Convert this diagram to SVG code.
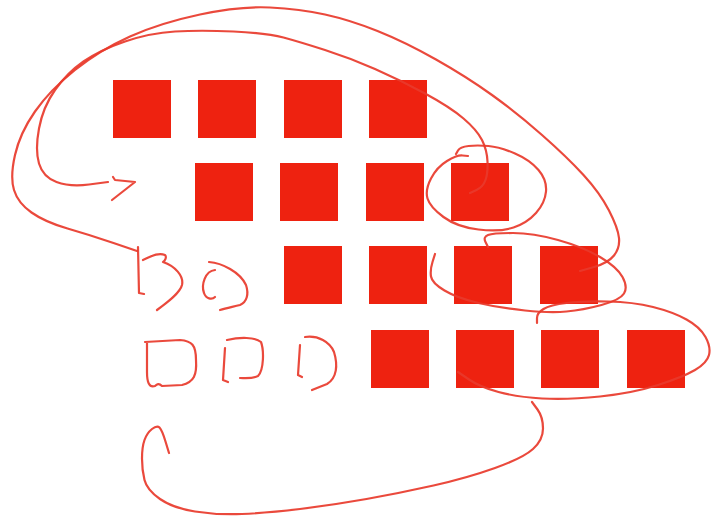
<svg xmlns="http://www.w3.org/2000/svg" width="711" height="518" viewBox="0 0 711 518">
<style>
.sq{fill:#ee2210}
.ink{fill:none;stroke:#e8392b;stroke-width:2.2;stroke-linecap:round;stroke-linejoin:round;opacity:0.92}
</style>
<rect width="711" height="518" fill="#ffffff"/>
<g id="squares">
<g id="r1c1"><rect class="sq" x="113" y="80" width="58" height="58"/></g>
<g id="r1c2"><rect class="sq" x="198" y="80" width="58" height="58"/></g>
<g id="r1c3"><rect class="sq" x="284" y="80" width="58" height="58"/></g>
<g id="r1c4"><rect class="sq" x="369" y="80" width="58" height="58"/></g>
<g id="r2c1"><rect class="sq" x="195" y="163" width="58" height="58"/></g>
<g id="r2c2"><rect class="sq" x="280" y="163" width="58" height="58"/></g>
<g id="r2c3"><rect class="sq" x="366" y="163" width="58" height="58"/></g>
<g id="r2c4"><rect class="sq" x="451" y="163" width="58" height="58"/></g>
<g id="r3c1"><rect class="sq" x="284" y="246" width="58" height="58"/></g>
<g id="r3c2"><rect class="sq" x="369" y="246" width="58" height="58"/></g>
<g id="r3c3"><rect class="sq" x="454" y="246" width="58" height="58"/></g>
<g id="r3c4"><rect class="sq" x="540" y="246" width="58" height="58"/></g>
<g id="r4c1"><rect class="sq" x="371" y="330" width="58" height="58"/></g>
<g id="r4c2"><rect class="sq" x="456" y="330" width="58" height="58"/></g>
<g id="r4c3"><rect class="sq" x="541" y="330" width="58" height="58"/></g>
<g id="r4c4"><rect class="sq" x="627" y="330" width="58" height="58"/></g>
</g>
<g id="connectors">
<path class="ink" d="M 137,251 L 113.5,243 Q 90,235 67.5,228.5 Q 45,222 31.5,212.5 Q 18,203 14,190 Q 10,177 15,155 Q 20,133 35,111.5 Q 50,90 75,70 Q 100,50 130,36.5 Q 160,23 200,14.5 Q 240,6 270,7.5 Q 300,9 325,14.5 Q 350,20 377.5,31 Q 405,42 436,59.5 Q 467,77 492,95 Q 517,113 542,135 Q 567,157 583.5,175 Q 600,193 609,210.5 Q 618,228 619,238 Q 620,248 614,255.5 Q 608,263 594,267 L 580,271"/>
<path class="ink" d="M 470,193 L 476.5,190 Q 483,187 485.5,180 Q 488,173 487.5,161.5 Q 487,150 482,140 Q 477,130 463.5,118.5 Q 450,107 425,93.5 Q 400,80 375,69 Q 350,58 325,50 Q 300,42 283.5,37.5 Q 267,33 233.5,31.5 Q 200,30 175,31.5 Q 150,33 125,41.5 Q 100,50 83.5,61.5 Q 67,73 55,90 Q 43,107 39,128.5 Q 35,150 39,163.5 Q 43,177 56.5,182 Q 70,187 89,184.5 L 108,182"/>
<path class="ink" d="M 113,177 L 115,180 L 135,182 L 112,200"/>
<path class="ink" d="M 468,156 L 462.5,155.5 Q 457,155 447,161 Q 437,167 431,178.5 Q 425,190 427.5,198.5 Q 430,207 443.5,217 Q 457,227 478.5,229.5 Q 500,232 513.5,227.5 Q 527,223 536,213 Q 545,203 546,191.5 Q 547,180 538.5,170 Q 530,160 515,153.5 Q 500,147 488.5,146 Q 477,145 468.5,146 Q 460,147 458,150.5 L 456,154"/>
<path class="ink" d="M 488,247 L 485.5,242 Q 483,237 488,235 Q 493,233 513,233 Q 533,233 558,240 Q 583,247 600,257 Q 617,267 622.5,277 Q 628,287 624,293.5 Q 620,300 601.5,305 Q 583,310 566.5,311.5 Q 550,313 525,310.5 Q 500,308 478.5,303 Q 457,298 444.5,290.5 Q 432,283 431,276.5 Q 430,270 432.5,262 L 435,254"/>
<path class="ink" d="M 537,323 L 537,318 Q 537,313 543.5,309 Q 550,305 566.5,303 Q 583,301 608,301.5 Q 633,302 653,307 Q 673,312 686.5,319.5 Q 700,327 705.5,337 Q 711,347 709,355 Q 707,363 695,370 Q 683,377 658,385 Q 633,393 600,396.5 Q 567,400 542,398.5 Q 517,397 498.5,392 Q 480,387 469,379.5 L 458,372"/>
<path class="ink" d="M 532,402 L 537.5,409.5 Q 543,417 543,428.5 Q 543,440 533,449 Q 523,458 495,468 Q 467,478 433.5,485.5 Q 400,493 366.5,499 Q 333,505 300,509 Q 267,513 242,514 Q 217,515 195,511.5 Q 173,508 160,499 Q 147,490 144.5,480 Q 142,470 142,458.5 Q 142,447 144.5,440 Q 147,433 152,429 Q 157,425 159.5,427.5 Q 162,430 165.5,441.5 L 169,453"/>
</g>
<g id="scribbles">
<path class="ink" d="M 138,247 L 139,293 L 144,294"/>
<path class="ink" d="M 143,260 C 150,257 158,252 165,255 C 167,257 165,261 163,262 C 175,266 184,276 182,285 C 180,293 168,302 157,310"/>
<path class="ink" d="M 215,270 C 205,271 201,285 204,293 C 206,299 212,300 215,297"/>
<path class="ink" d="M 209,262 C 222,263 240,272 246,285 C 249,294 247,302 240,305 C 232,307 226,308 220,310"/>
<path class="ink" d="M 145,342 L 180,340 C 192,341 196,345 196,360 C 197,375 194,382 182,385 L 162,386 C 159,383 157,384 155,386 C 149,388 147,382 147,372 L 147,343"/>
<path class="ink" d="M 225,348 L 223,380 L 228,382"/>
<path class="ink" d="M 227,340 C 240,337 255,337 261,342 C 264,350 264,370 258,376 C 252,379 245,378 240,378"/>
<path class="ink" d="M 300,345 L 298,375 L 302,377"/>
<path class="ink" d="M 305,337 C 318,335 330,342 334,352 C 338,365 337,378 327,384 L 312,390"/>
</g>
</svg>
